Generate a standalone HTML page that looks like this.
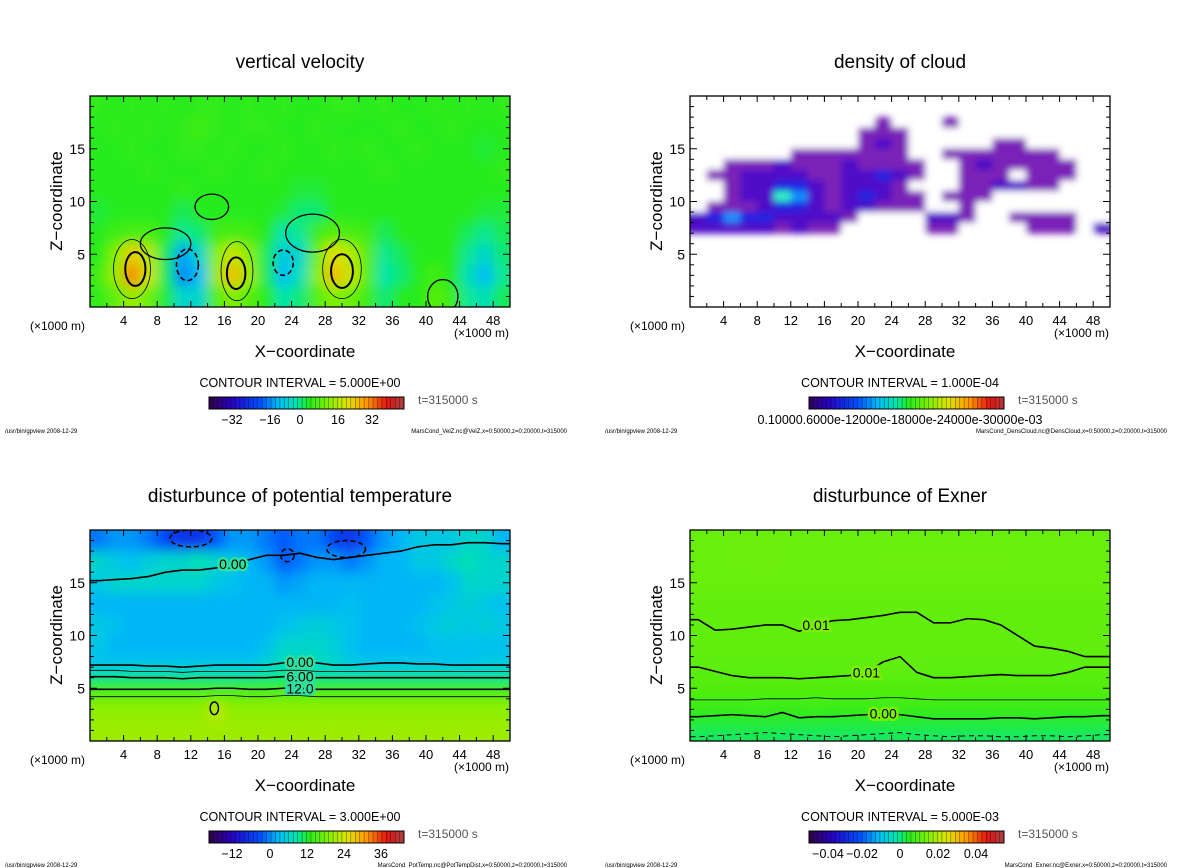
<!DOCTYPE html>
<html><head><meta charset="utf-8"><style>
body{margin:0;background:#fff;width:1200px;height:868px;overflow:hidden}
svg{display:block}
text{font-family:"Liberation Sans",sans-serif;fill:#000}
</style></head><body>
<svg id="root" width="1200" height="868" viewBox="0 0 1200 868" xmlns="http://www.w3.org/2000/svg">
<defs>
<filter id="blur6" x="-5%" y="-5%" width="110%" height="110%"><feGaussianBlur stdDeviation="6"/></filter>
<filter id="blur3"><feGaussianBlur stdDeviation="3.5"/></filter>
</defs>
</svg>
<script>
// ---------- data ----------
const xCenters=[1,3,5,7,9,11,13,15,17,19,21,23,25,27,29,31,33,35,37,39,41,43,45,47,49];
const xTickLabels=[4,8,12,16,20,24,28,32,36,40,44,48];
const zTickLabels=[5,10,15];

const velZ_z=[19,17,15,13,11,9,7,5,3,1];
const velZ_v=[
[1,0,1,0,1,0,1,1,0,1,0,1,0,0,1,1,0,1,0,0,1,0,1,0,1],
[0,1,0,1,0,1,2,1,0,1,1,0,0,1,0,0,0,0,1,0,0,1,0,0,0],
[0,0,1,0,0,1,1,0,1,0,0,1,0,0,1,0,1,0,0,1,0,0,0,-1,0],
[0,0,0,1,0,0,0,1,0,0,1,0,0,0,0,0,0,1,0,0,0,0,0,0,1],
[0,0,0,0,0,1,0,0,0,0,0,0,-1,-1,0,0,0,0,0,0,0,0,0,0,0],
[-1,0,0,0,0,-2,0,0,0,0,0,-1,-3,-3,0,0,0,0,0,0,0,0,0,-1,-1],
[0,2,3,3,0,-4,-3,2,3,2,0,-5,-4,2,4,3,2,-2,0,0,0,0,-2,-4,-2],
[0,8,18,12,-2,-14,-8,8,14,8,-2,-10,-8,6,16,12,4,-4,-2,0,0,0,-4,-8,-3],
[2,10,25,14,-2,-16,-12,10,20,10,-2,-12,-6,8,20,14,4,-5,-3,0,2,0,-6,-12,-4],
[1,5,10,6,-1,-8,-8,4,8,4,0,-5,-3,4,8,6,2,-3,0,0,4,2,-4,-6,-2]];

const cloud_z=[17.5,16.5,15.5,14.5,13.5,12.5,11.5,10.5,9.5,8.5,7.5];
const cloud_v=[
[0,0,0,0,0,0,0,0,0,0,0,1,0,0,0,1,0,0,0,0,0,0,0,0,0],
[0,0,0,0,0,0,0,0,0,0,1,1,1,0,0,0,0,0,0,0,0,0,0,0,0],
[0,0,0,0,0,0,0,0,0,0,1,2,1,0,0,0,0,0,1,1,0,0,0,0,0],
[0,0,0,0,0,0,1,1,1,1,1,1,1,0,0,1,1,1,1,1,1,1,0,0,0],
[0,0,1,1,1,2,1,1,1,2,1,1,1,1,0,0,1,2,1,1,1,1,1,0,0],
[0,1,1,2,2,2,2,1,1,2,2,3,2,1,0,0,1,1,1,0,1,1,1,0,0],
[0,0,1,2,2,3,3,2,1,2,2,2,1,0,0,0,1,1,2,2,1,1,0,0,0],
[0,0,1,2,2,5,4,2,1,2,3,2,1,1,0,1,1,1,0,0,0,0,0,0,0],
[0,1,1,1,2,3,3,2,1,2,2,1,1,1,0,0,1,0,0,0,0,0,0,0,0],
[2,3,4,3,3,2,2,2,2,1,0,0,0,0,2,2,1,0,0,1,1,1,1,0,0],
[2,2,2,2,2,1,2,1,1,0,0,0,0,0,1,1,0,0,0,0,1,1,1,0,2]];

const pt_z=[19,17,15,13,11,9,7.5,6.5,5.5,4.5,3,1];
const pt_v=[
[-6,-4,-4,-6,-10,-12,-12,-8,-4,-4,-6,-8,-6,-6,-10,-12,-8,-4,-2,0,0,0,2,2,-2],
[2,0,-1,1,2,2,4,2,0,-2,-4,-8,-6,-4,-4,-6,-4,-2,-2,0,0,2,4,2,2],
[0,2,2,2,2,2,2,0,-1,-2,-2,-4,-3,-2,-2,-2,-2,-2,-2,-2,-2,-1,2,2,2],
[-2,-2,-2,-2,-2,-2,-2,-2,-2,-2,-2,-2,-2,-2,-2,-1,-2,-2,-2,-2,-1,0,1,0,-1],
[0,-1,-2,-2,-2,-2,-2,-2,-2,-2,-2,-1,0,1,0,-1,-2,-2,-2,-1,0,1,0,1,0],
[0,-2,-2,-2,-2,-2,-2,-2,-2,-2,-1,2,2,2,1,-1,-2,-2,-2,-2,-1,-1,-1,-1,-1],
[-1,-1,-1,-1,-1,-1,-1,-1,-1,-1,1,3,3,3,2,0,-1,-1,-1,-1,-1,-1,-1,0,0],
[3,3,3,3,3,3,3,3,3,3,4,5,4,3,3,3,3,3,3,3,3,3,3,3,3],
[8,8,8,8,8,8,8,8,8,8,8,8,8,8,8,8,8,8,8,8,8,8,8,8,8],
[13,13,13,13,13,13,13,13,13,13,13,13,13,13,13,13,13,13,13,13,13,13,13,13,13],
[17,17,17,17,17,17,17,20,17,17,17,17,17,17,17,17,17,17,17,17,17,17,17,17,17],
[18,18,18,18,18,18,18,18,18,18,18,18,18,18,18,18,18,18,18,18,18,18,18,18,18]];
const pt_levelZ=[[7.2,7.2,7.2,7.1,7.1,7,7.1,7.2,7.2,7.2,7.2,7.4,7.5,7.4,7.2,7.2,7.3,7.4,7.4,7.3,7.3,7.2,7.2,7.2,7.2],
[6.1,6.1,6,6,6,5.9,6,6,6,6,6,6.1,6.1,6,6,6,6,6,6,6,6,6,6,6,6],
[4.9,4.9,4.9,4.9,4.9,4.9,4.9,5,5,4.9,4.9,5,5,4.9,4.9,4.9,4.9,4.9,4.9,4.9,4.9,4.9,4.9,4.9,4.9]];
const pt_topZ=[15.2,15.3,15.4,15.6,16,16.2,16.2,16.4,16.8,17.2,17.6,17.6,17.8,17.4,17.2,17.4,17.6,17.8,18,18.4,18.6,18.6,18.8,18.8,18.7];

const exner_z=[19,17,15,13,11,9,7,5,3.5,2.5,1.5,0.5];
const exner_v=[
[0.012,0.012,0.0125,0.0125,0.0125,0.0125,0.012,0.012,0.012,0.012,0.012,0.012,0.012,0.012,0.012,0.012,0.012,0.012,0.012,0.012,0.012,0.0125,0.012,0.012,0.012],
[0.012,0.012,0.0125,0.0125,0.013,0.0125,0.012,0.012,0.012,0.012,0.012,0.0125,0.0125,0.0125,0.0125,0.0125,0.0125,0.0125,0.0125,0.012,0.012,0.012,0.012,0.012,0.012],
[0.012,0.012,0.012,0.012,0.012,0.012,0.012,0.012,0.012,0.012,0.012,0.012,0.012,0.012,0.012,0.012,0.012,0.012,0.012,0.012,0.012,0.012,0.012,0.012,0.012],
[0.011,0.011,0.011,0.011,0.011,0.011,0.011,0.011,0.011,0.011,0.011,0.011,0.011,0.011,0.011,0.011,0.011,0.011,0.011,0.011,0.011,0.011,0.011,0.011,0.011],
[0.010,0.0105,0.0105,0.0105,0.0105,0.0105,0.0105,0.0105,0.0105,0.0105,0.0105,0.0105,0.0105,0.0105,0.0105,0.0105,0.0105,0.0105,0.0105,0.0105,0.0105,0.0105,0.0105,0.0105,0.010],
[0.0105,0.0105,0.0105,0.0105,0.011,0.0105,0.0105,0.0105,0.0105,0.0105,0.0105,0.0105,0.0105,0.0105,0.0105,0.0105,0.0105,0.0105,0.0105,0.0105,0.0105,0.0105,0.0105,0.0105,0.0105],
[0.0095,0.0095,0.0095,0.0095,0.0095,0.0095,0.0095,0.0095,0.0095,0.0095,0.0095,0.01,0.01,0.01,0.0095,0.0095,0.0095,0.0095,0.0095,0.0095,0.0095,0.0095,0.0095,0.0095,0.0095],
[0.008,0.008,0.008,0.008,0.008,0.008,0.008,0.008,0.008,0.008,0.008,0.008,0.008,0.008,0.008,0.008,0.008,0.008,0.008,0.008,0.008,0.008,0.008,0.008,0.008],
[0.005,0.005,0.005,0.005,0.005,0.005,0.005,0.005,0.005,0.005,0.005,0.005,0.005,0.005,0.005,0.005,0.005,0.005,0.005,0.005,0.005,0.005,0.005,0.005,0.005],
[0.001,0.001,0.001,0.002,0.002,0.001,0.001,0.002,0.001,0.001,0.001,0.002,0.002,0.001,0.001,0.001,0.001,0.001,0.001,0.001,0.001,0.001,0.001,0.001,0.001],
[-0.002,-0.002,-0.002,-0.002,-0.002,-0.002,-0.002,-0.002,-0.002,-0.002,-0.002,-0.002,-0.002,-0.002,-0.002,-0.002,-0.002,-0.002,-0.002,-0.002,-0.002,-0.002,-0.002,-0.002,-0.002],
[-0.005,-0.005,-0.005,-0.004,-0.004,-0.005,-0.005,-0.005,-0.005,-0.005,-0.005,-0.005,-0.004,-0.005,-0.005,-0.005,-0.005,-0.005,-0.005,-0.005,-0.005,-0.005,-0.005,-0.005,-0.005]];
const exner_levelZ=[
[11.5,10.5,10.6,10.8,11,11,10.4,11,11.4,11.5,11.7,11.9,12.2,12.2,11.2,11.2,11.6,11.5,11,10,9,8.8,8.5,8,8],
[7,6.6,6.2,6,6,6,5.9,6,6.1,6.2,6.5,7.5,8,6.5,6,6,6.1,6.2,6.3,6.2,6.2,6.2,6.5,7,7],
[2.3,2.4,2.5,2.4,2.3,2.7,2.2,2.3,2.3,2.4,2.5,2.6,2.5,2.3,2.1,2.1,2.1,2.1,2.2,2.2,2.1,2.2,2.3,2.3,2.4]];
const exner_thinZ=[3.9,3.9,3.9,3.9,4,4,4,4.1,4,4,4,4.1,4.1,4,3.9,3.9,3.9,3.9,3.9,3.9,3.9,3.9,3.9,3.9,3.9];
const exner_dashZ=[0.4,0.5,0.6,0.7,0.8,0.7,0.6,0.5,0.4,0.5,0.6,0.7,0.8,0.6,0.5,0.4,0.5,0.5,0.4,0.4,0.5,0.5,0.4,0.5,0.6];

// ---------- helpers ----------
const NS='http://www.w3.org/2000/svg';
const root=document.getElementById('root');
function el(tag,attrs,parent){const e=document.createElementNS(NS,tag);for(const k in attrs)e.setAttribute(k,attrs[k]);(parent||root).appendChild(e);return e;}
const stops=[[0,[48,0,80]],[0.1,[40,0,190]],[0.25,[0,80,255]],[0.35,[0,190,245]],[0.44,[0,230,170]],[0.5,[40,235,30]],[0.6,[130,240,0]],[0.7,[225,225,0]],[0.8,[255,150,0]],[0.9,[225,20,20]],[1,[160,70,70]]];
function cmap(t){t=Math.max(0,Math.min(1,t));for(let i=1;i<stops.length;i++){if(t<=stops[i][0]){const a=stops[i-1],b=stops[i],f=(t-a[0])/(b[0]-a[0]);return 'rgb('+a[1].map((c,j)=>Math.round(c+(b[1][j]-c)*f)).join(',')+')';}}return 'rgb(160,70,70)';}
const cloudCols=['#ffffff','#7a20b8','#5010c8','#2020e0','#1090ff','#30f0c0'];

function panel(ox,oy,cfg){
  const X0=ox+90,X1=ox+510,Y0=oy+96,Y1=oy+307;
  const sx=x=>X0+(x/50)*(X1-X0), sz=z=>Y1-(z/20)*(Y1-Y0);
  const g=el('g',{});
  
  
  const t=el('text',{x:ox+300,y:oy+68,'text-anchor':'middle','font-size':19},g);t.textContent=cfg.title;
  
  const cid='clip'+cfg.id;
  const cp=el('clipPath',{id:cid},g);el('rect',{x:X0,y:Y0,width:X1-X0,height:Y1-Y0},cp);
  const plot=el('g',{'clip-path':'url(#'+cid+')'},g);
  
  el('rect',{x:X0,y:Y0,width:X1-X0,height:Y1-Y0,fill:cfg.bg},plot);
  const heat=el('g',{filter:cfg.blur},plot);
  const zs=cfg.zs;
  for(let r=0;r<zs.length;r++){
    const top=r===0?(cfg.cloud?zs[0]+0.5:21):(zs[r-1]+zs[r])/2;
    const bot=r===zs.length-1?(cfg.cloud?zs[r]-0.5:-1):(zs[r]+zs[r+1])/2;
    for(let c=0;c<xCenters.length;c++){
      const v=cfg.vals[r][c];
      const fill=cfg.color(v);
      const x0=c===0?-1:xCenters[c]-1,x1=c===xCenters.length-1?51:xCenters[c]+1;
      const rc=el('rect',{x:sx(x0),y:sz(top),width:sx(x1)-sx(x0)+0.5,height:sz(bot)-sz(top)+0.5,fill:fill},heat);
      
      
    }
  }
  (cfg.lines||[]).forEach(L=>{
    const pts=[sx(-1)+','+sz(L.z[0])].concat(L.z.map((z,i)=>sx(xCenters[i])+','+sz(z))).concat([sx(51)+','+sz(L.z[L.z.length-1])]);
    const p=el('polyline',{points:pts.join(' '),fill:'none',stroke:'#000','stroke-width':L.w||1.6,'stroke-dasharray':L.dash||'none'},plot);
    
    
    if(L.label){const i=L.li;const lt=el('text',{x:sx(xCenters[i]),y:sz(L.z[i])+5,'text-anchor':'middle','font-size':14},plot);
      lt.textContent=L.label;lt.setAttribute('style','paint-order:stroke;stroke:'+cfg.labelBg+';stroke-width:5px');}
  });
  (cfg.ellipses||[]).forEach(E=>{
    const e=el('ellipse',{cx:sx(E[0]),cy:sz(E[1]),rx:sx(E[2])-sx(0),ry:sz(0)-sz(E[3]),fill:'none',stroke:'#000','stroke-width':E[4],'stroke-dasharray':E[5]||'none'},plot);
    
    
  });
  const fr=el('rect',{x:X0,y:Y0,width:X1-X0,height:Y1-Y0,fill:'none',stroke:'#000','stroke-width':1.3},g);
  
  for(let x=2;x<50;x+=2){const L=(x%4===0)?6:4;
    el('line',{x1:sx(x),x2:sx(x),y1:Y1,y2:Y1-L,stroke:'#000','stroke-width':1},g);
    el('line',{x1:sx(x),x2:sx(x),y1:Y0,y2:Y0+L,stroke:'#000','stroke-width':1},g);}
  for(let z=1;z<20;z++){const L=(z%5===0)?7:4;
    el('line',{x1:X0,x2:X0+L,y1:sz(z),y2:sz(z),stroke:'#000','stroke-width':1},g);
    el('line',{x1:X1,x2:X1-L,y1:sz(z),y2:sz(z),stroke:'#000','stroke-width':1},g);}
  xTickLabels.forEach(v=>{const tt=el('text',{x:sx(v),y:Y1+18,'text-anchor':'middle','font-size':13},g);tt.textContent=v;
    });
  zTickLabels.forEach(v=>{const tt=el('text',{x:X0-5,y:sz(v)+5,'text-anchor':'end','font-size':14},g);tt.textContent=v;
    });
  let u=el('text',{x:ox+30,y:oy+330,'font-size':12},g);u.textContent='(\u00d71000 m)';
  u=el('text',{x:ox+454,y:oy+337,'font-size':12},g);u.textContent='(\u00d71000 m)';
  const xl=el('text',{x:ox+305,y:oy+357,'text-anchor':'middle','font-size':17},g);xl.textContent='X\u2212coordinate';
  
  const yl=el('text',{x:0,y:0,'text-anchor':'middle','font-size':17,transform:'translate('+(ox+62)+','+(oy+201)+') rotate(-90)'},g);yl.textContent='Z\u2212coordinate';
  
  const ci=el('text',{x:ox+300,y:oy+387,'text-anchor':'middle','font-size':12.5},g);ci.textContent='CONTOUR INTERVAL = '+cfg.interval;
  
  const cb=el('g',{},g);
  const bx0=ox+209,bx1=ox+404,by=oy+397,bh=12,n=44,w=(bx1-bx0)/n;
  for(let i=0;i<n;i++){el('rect',{x:bx0+i*w,y:by,width:w+0.3,height:bh,fill:cfg.cloud?cmap(0.02+0.96*i/n):cmap(i/n)},cb);
    el('line',{x1:bx0+i*w,x2:bx0+i*w,y1:by,y2:by+bh,stroke:'#000','stroke-width':0.5,opacity:0.6},cb);}
  el('rect',{x:bx0,y:by,width:bx1-bx0,height:bh,fill:'none',stroke:'#000','stroke-width':1},cb);
  cfg.cbLabels.forEach(L=>{const tt=el('text',{x:ox+L[0],y:oy+424,'text-anchor':'middle','font-size':12.5},cb);tt.textContent=L[1];});
  const ts=el('text',{x:ox+418,y:oy+404,'font-size':12,style:'fill:#555'},g);ts.textContent='t=315000 s';
  
  const f1=el('text',{x:ox+5,y:oy+433,'font-size':6},g);f1.textContent='/usr/bin/gpview   2008-12-29';
  const f2=el('text',{x:ox+567,y:oy+433,'font-size':6,'text-anchor':'end'},g);f2.textContent=cfg.footer;
}

panel(0,0,{id:'velz',title:'vertical velocity',zs:velZ_z,vals:velZ_v,bg:'#30e820',blur:'url(#blur6)',
  color:v=>cmap((v+40)/80),interval:'5.000E+00',labelBg:'#30e820',
  cbLabels:[[232,'\u221232'],[270,'\u221216'],[300,'0'],[338,'16'],[372,'32']],
  ellipses:[[5.4,3.6,1.2,1.6,2],[17.4,3.2,1.1,1.5,2],[30,3.4,1.3,1.6,2],[11.6,4,1.3,1.5,1.6,'5,3'],[23,4.2,1.2,1.2,1.6,'5,3'],[5,3.6,2.2,2.8,0.8],[17.5,3.4,1.9,2.8,0.8],[30,3.6,2.3,2.8,0.8],
    [9,6,3,1.5,1.3],[26.5,7,3.2,1.8,1.3],[14.5,9.5,2,1.2,1.3],[42,1,1.8,1.6,1.3]],
  footer:'MarsCond_VelZ.nc@VelZ,x=0:50000,z=0:20000,t=315000'});
panel(600,0,{id:'cloud',title:'density of cloud',zs:cloud_z,vals:cloud_v,bg:'#ffffff',blur:'url(#blur3)',cloud:true,
  color:v=>cloudCols[v],interval:'1.000E-04',labelBg:'#fff',
  cbLabels:[[300,'0.10000.6000e-12000e-18000e-24000e-30000e-03']],
  footer:'MarsCond_DensCloud.nc@DensCloud,x=0:50000,z=0:20000,t=315000'});
panel(0,434,{id:'pt',title:'disturbunce of potential temperature',zs:pt_z,vals:pt_v,bg:'#10b8f0',blur:'url(#blur6)',
  color:v=>cmap((v+26)/70),interval:'3.000E+00',labelBg:'#30e0a0',
  lines:[{z:pt_levelZ[0],label:'0.00',li:12},{z:pt_levelZ[1],label:'6.00',li:12},{z:pt_levelZ[2],label:'12.0',li:12},
    {z:pt_levelZ[1].map(z=>z+0.6),w:0.8},{z:pt_levelZ[2].map(z=>z-0.7),w:0.8},{z:pt_topZ,label:'0.00',li:8}],
  ellipses:[[14.8,3.1,0.5,0.6,1.5],[12,19.2,2.5,0.8,1.5,'5,3'],[30.5,18.2,2.3,0.8,1.5,'5,3'],[23.5,17.6,0.8,0.6,1.5,'5,3']],
  cbLabels:[[232,'\u221212'],[270,'0'],[307,'12'],[344,'24'],[381,'36']],
  footer:'MarsCond_PotTemp.nc@PotTempDist,x=0:50000,z=0:20000,t=315000'});
panel(600,434,{id:'exner',title:'disturbunce of Exner',zs:exner_z,vals:exner_v,bg:'#78f000',blur:'url(#blur6)',
  color:v=>cmap(0.5+v*6),interval:'5.000E-03',labelBg:'#78f000',
  lines:[{z:exner_levelZ[0],label:'0.01',li:7},{z:exner_levelZ[1],label:'0.01',li:10},{z:exner_levelZ[2],label:'0.00',li:11},
    {z:exner_thinZ,w:0.8},{z:exner_dashZ,w:1,dash:'5,4'}],
  cbLabels:[[228,'\u22120.04'],[262,'\u22120.02'],[300,'0'],[338,'0.02'],[376,'0.04']],
  footer:'MarsCond_Exner.nc@Exner,x=0:50000,z=0:20000,t=315000'});
</script>
</body></html>
